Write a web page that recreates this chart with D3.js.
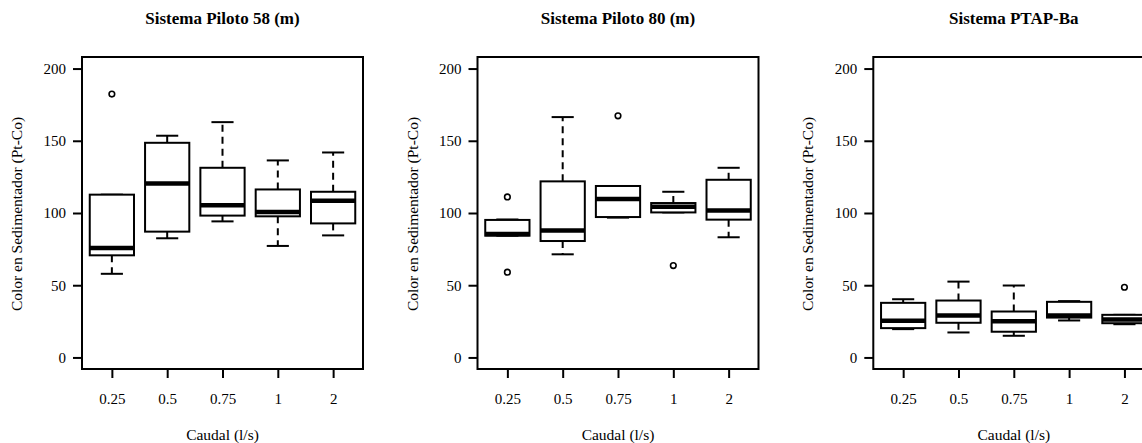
<!DOCTYPE html>
<html><head><meta charset="utf-8">
<script src="https://cdn.jsdelivr.net/npm/d3@7"></script>
<style>body{margin:0;background:#fff;} svg{display:block;} svg text{font-family:"Liberation Serif","Times New Roman",Times,"DejaVu Serif",serif !important;}</style>
</head><body>
<svg id="chart" width="1142" height="443"></svg>
<script>
const categories = ["0.25", "0.5", "0.75", "1", "2"];
const yTicks = [0, 50, 100, 150, 200];
const panelTitles = ["Sistema Piloto 58 (m)", "Sistema Piloto 80 (m)", "Sistema PTAP-Ba"];
const xLabel = "Caudal (l/s)";
const yLabel = "Color en Sedimentador (Pt-Co)";

// Piloto 58
const p58Low    = [57.9, 82.5, 94.2, 77.2, 84.5];
const p58Q1     = [70.7, 87.1, 98.2, 97.7, 92.8];
const p58Median = [75.8, 120.5, 105.3, 100.7, 108.5];
const p58Q3     = [112.7, 148.6, 131.3, 116.3, 114.7];
const p58High   = [112.7, 153.5, 162.9, 136.4, 141.9];
const p58Out    = [[182.3], [], [], [], []];

// Piloto 80
const p80Low    = [84.3, 71.4, 96.8, 100.4, 83.2];
const p80Q1     = [84.3, 80.6, 97.2, 100.4, 95.4];
const p80Median = [85.5, 87.8, 109.7, 104.4, 101.8];
const p80Q3     = [95.2, 121.9, 118.7, 106.9, 123.0];
const p80High   = [95.5, 166.4, 118.7, 114.7, 131.3];
const p80Out    = [[111.1, 59.0], [], [167.3], [63.6], []];

// PTAP-Ba
const ptapLow    = [19.6, 17.3, 15.0, 25.6, 23.0];
const ptapQ1     = [20.3, 24.0, 17.8, 27.6, 23.7];
const ptapMedian = [25.4, 29.0, 25.1, 29.0, 26.3];
const ptapQ3     = [37.8, 39.4, 31.8, 38.5, 29.5];
const ptapHigh   = [40.3, 52.5, 49.8, 39.0, 29.5];
const ptapOut    = [[], [], [], [], [48.6]];

const panels = [
  {title: panelTitles[0], low: p58Low, q1: p58Q1, med: p58Median, q3: p58Q3, high: p58High, out: p58Out},
  {title: panelTitles[1], low: p80Low, q1: p80Q1, med: p80Median, q3: p80Q3, high: p80High, out: p80Out},
  {title: panelTitles[2], low: ptapLow, q1: ptapQ1, med: ptapMedian, q3: ptapQ3, high: ptapHigh, out: ptapOut}
];

const svg = d3.select("#chart");
const font = "Liberation Serif";
const plotW = 281, plotTop = 57, plotBottom = 369;
const lefts = [82, 477.5, 873.3];

const y = d3.scaleLinear().domain([-8, 208]).range([plotBottom, plotTop]);
const x = d3.scaleLinear().domain([0.46, 5.54]).range([0, plotW]);

panels.forEach((p, pi) => {
  const g = svg.append("g").attr("transform", `translate(${lefts[pi]},0)`);
  const xs = d => x(categories.indexOf(d) + 1);
  const unit = x(1) - x(0);
  const boxW = 0.8 * unit, capW = 0.4 * unit;

  g.append("text").attr("x", plotW / 2).attr("y", 24).attr("text-anchor", "middle")
    .style("font-family", font).attr("font-weight", "bold").attr("font-size", 17).text(p.title);

  const yAxis = d3.axisLeft(y).tickValues(yTicks).tickSize(9).tickPadding(7).tickFormat(d3.format("d"));
  const ya = g.append("g").call(yAxis);
  ya.attr("font-family", null);
  ya.select(".domain").remove();
  ya.selectAll("line").attr("stroke", "#000").attr("stroke-width", 2);
  ya.selectAll("text").style("font-family", font).attr("font-size", 15).attr("fill", "#000");

  const xAxis = d3.axisBottom(d3.scalePoint().domain(categories).range([x(1), x(5)]))
    .tickSize(9).tickPadding(15);
  const xa = g.append("g").attr("transform", `translate(0,${plotBottom})`).call(xAxis);
  xa.attr("font-family", null);
  xa.select(".domain").remove();
  xa.selectAll("line").attr("stroke", "#000").attr("stroke-width", 2);
  xa.selectAll("text").style("font-family", font).attr("font-size", 15).attr("fill", "#000");

  g.append("rect").attr("x", 0).attr("y", plotTop).attr("width", plotW).attr("height", plotBottom - plotTop)
    .attr("fill", "none").attr("stroke", "#000").attr("stroke-width", 2);

  g.append("text").attr("x", plotW / 2).attr("y", 440).attr("text-anchor", "middle")
    .style("font-family", font).attr("font-size", 15.5).text(xLabel);
  g.append("text").attr("transform", `translate(-60,${(plotTop + plotBottom) / 2 + 1}) rotate(-90)`)
    .attr("text-anchor", "middle").style("font-family", font).attr("font-size", 15.5).text(yLabel);

  categories.forEach((c, i) => {
    const cx = xs(c);
    const bg = g.append("g");
    bg.append("line").attr("x1", cx).attr("x2", cx).attr("y1", y(p.q3[i])).attr("y2", y(p.high[i]))
      .attr("stroke", "#000").attr("stroke-width", 2).attr("stroke-dasharray", "7,5");
    bg.append("line").attr("x1", cx).attr("x2", cx).attr("y1", y(p.q1[i])).attr("y2", y(p.low[i]))
      .attr("stroke", "#000").attr("stroke-width", 2).attr("stroke-dasharray", "7,5");
    [p.high[i], p.low[i]].forEach(v => {
      bg.append("line").attr("x1", cx - capW / 2).attr("x2", cx + capW / 2).attr("y1", y(v)).attr("y2", y(v))
        .attr("stroke", "#000").attr("stroke-width", 2);
    });
    bg.append("rect").attr("x", cx - boxW / 2).attr("y", y(p.q3[i])).attr("width", boxW)
      .attr("height", y(p.q1[i]) - y(p.q3[i])).attr("fill", "#fff").attr("stroke", "#000").attr("stroke-width", 2);
    bg.append("line").attr("x1", cx - boxW / 2).attr("x2", cx + boxW / 2).attr("y1", y(p.med[i])).attr("y2", y(p.med[i]))
      .attr("stroke", "#000").attr("stroke-width", 4.5);
    p.out[i].forEach(v => {
      bg.append("circle").attr("cx", cx).attr("cy", y(v)).attr("r", 2.8)
        .attr("fill", "none").attr("stroke", "#000").attr("stroke-width", 1.6);
    });
  });
});
</script>
</body></html>
